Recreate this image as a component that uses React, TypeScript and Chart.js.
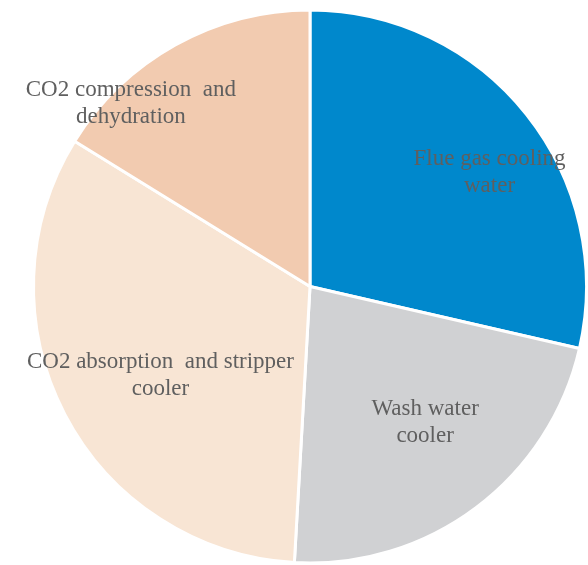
import React, { useEffect, useRef } from "react";
import { Chart, registerables } from "chart.js";

Chart.register(...registerables);

const categories = [
  "Flue gas cooling water",
  "Wash water cooler",
  "CO2 absorption and stripper cooler",
  "CO2 compression and dehydration",
];
const labelLines = [
  ["Flue gas cooling", "water"],
  ["Wash water", "cooler"],
  ["CO2 absorption  and stripper", "cooler"],
  ["CO2 compression  and", "dehydration"],
];
const values = [28.6, 22.3, 32.9, 16.2];
const colors = ["#0088CC", "#D0D1D3", "#F8E5D4", "#F2CBB0"];
const labelRadius = [0.77, 0.645, 0.63, 0.925];
const labelAngleShift = [6, -3.3, -3.3, -15.3];

const labelPlugin = {
  id: "sliceLabels",
  afterDraw(chart: any) {
    const ctx = chart.ctx;
    const meta = chart.getDatasetMeta(0);
    ctx.save();
    ctx.font = '23px "Liberation Serif", "Times New Roman", serif';
    ctx.fillStyle = "#5f5f5f";
    ctx.textAlign = "center";
    ctx.textBaseline = "middle";
    meta.data.forEach((arc: any, i: number) => {
      const { x, y, startAngle, endAngle, outerRadius } = arc.getProps(
        ["x", "y", "startAngle", "endAngle", "outerRadius"],
        true
      );
      const mid = (startAngle + endAngle) / 2 + (labelAngleShift[i] * Math.PI) / 180;
      const r = outerRadius * labelRadius[i];
      const cx = x + Math.cos(mid) * r;
      const cy = y + Math.sin(mid) * r;
      const lines = labelLines[i];
      const lh = 27;
      lines.forEach((ln, j) => {
        ctx.fillText(ln, cx, cy + (j - (lines.length - 1) / 2) * lh);
      });
    });
    ctx.restore();
  },
};

export default function App() {
  const ref = useRef<HTMLCanvasElement>(null);
  useEffect(() => {
    if (!ref.current) return;
    const chart = new Chart(ref.current, {
      type: "pie",
      data: {
        labels: categories,
        datasets: [
          {
            data: values,
            backgroundColor: colors,
            borderColor: "#ffffff",
            borderWidth: 3,
          },
        ],
      },
      options: {
        animation: false,
        responsive: false,
        layout: { padding: { left: 32, right: 0, top: 8, bottom: 0 } },
        plugins: {
          legend: { display: false },
          tooltip: { enabled: false },
        },
      },
      plugins: [labelPlugin],
    });
    return () => chart.destroy();
  }, []);
  return (
    <div style={{ position: "absolute", left: 0, top: 0, width: 588, height: 565 }}>
      <canvas ref={ref} width={588} height={565} style={{ width: 588, height: 565 }} />
    </div>
  );
}
